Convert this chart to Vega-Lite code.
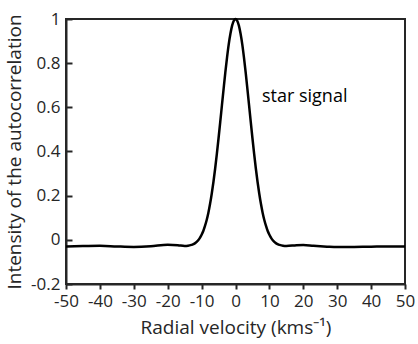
{
  "$schema": "https://vega.github.io/schema/vega-lite/v6.json",
  "width": 339,
  "height": 265,
  "autosize": "none",
  "padding": {"left": 66, "top": 19, "right": 13, "bottom": 60},
  "background": "white",
  "config": {
    "view": {"stroke": "#262626", "strokeWidth": 2},
    "axis": {
      "grid": false,
      "labelOverlap": false,
      "labelFlush": false,
      "labelFont": "Open Sans",
      "labelFontSize": 17,
      "labelColor": "#262626",
      "titleFont": "Open Sans",
      "titleFontSize": 19,
      "titleFontWeight": "normal",
      "titleColor": "#262626"
    }
  },
  "datasets": {
    "curve": [
      {"v": -50, "i": -0.030}, {"v": -45, "i": -0.028}, {"v": -40, "i": -0.027}, {"v": -35, "i": -0.030},
      {"v": -30, "i": -0.032}, {"v": -25, "i": -0.029}, {"v": -20, "i": -0.022}, {"v": -17, "i": -0.024},
      {"v": -15, "i": -0.028}, {"v": -14, "i": -0.027}, {"v": -13, "i": -0.023}, {"v": -12, "i": -0.016},
      {"v": -11, "i": -0.002}, {"v": -10.5, "i": 0.009}, {"v": -10, "i": 0.023}, {"v": -9.5, "i": 0.040},
      {"v": -9, "i": 0.063}, {"v": -8.5, "i": 0.090}, {"v": -8, "i": 0.123}, {"v": -7.5, "i": 0.163},
      {"v": -7, "i": 0.210}, {"v": -6.5, "i": 0.263}, {"v": -6, "i": 0.323}, {"v": -5.5, "i": 0.389},
      {"v": -5, "i": 0.460}, {"v": -4.5, "i": 0.534}, {"v": -4, "i": 0.610}, {"v": -3.5, "i": 0.685},
      {"v": -3, "i": 0.758}, {"v": -2.5, "i": 0.825}, {"v": -2, "i": 0.885}, {"v": -1.5, "i": 0.933},
      {"v": -1, "i": 0.970}, {"v": -0.5, "i": 0.992}, {"v": 0, "i": 1.0},
      {"v": 0.5, "i": 0.992}, {"v": 1, "i": 0.970}, {"v": 1.5, "i": 0.933}, {"v": 2, "i": 0.885},
      {"v": 2.5, "i": 0.825}, {"v": 3, "i": 0.758}, {"v": 3.5, "i": 0.685}, {"v": 4, "i": 0.610},
      {"v": 4.5, "i": 0.534}, {"v": 5, "i": 0.460}, {"v": 5.5, "i": 0.389}, {"v": 6, "i": 0.323},
      {"v": 6.5, "i": 0.263}, {"v": 7, "i": 0.210}, {"v": 7.5, "i": 0.163}, {"v": 8, "i": 0.123},
      {"v": 8.5, "i": 0.090}, {"v": 9, "i": 0.063}, {"v": 9.5, "i": 0.040}, {"v": 10, "i": 0.023},
      {"v": 10.5, "i": 0.009}, {"v": 11, "i": -0.002}, {"v": 12, "i": -0.016}, {"v": 13, "i": -0.023},
      {"v": 14, "i": -0.027}, {"v": 15, "i": -0.028}, {"v": 18, "i": -0.024}, {"v": 20, "i": -0.023},
      {"v": 23, "i": -0.027}, {"v": 27, "i": -0.031}, {"v": 30, "i": -0.033}, {"v": 35, "i": -0.032},
      {"v": 40, "i": -0.031}, {"v": 45, "i": -0.030}, {"v": 50, "i": -0.030}
    ],
    "note": [{"v": 7.8, "i": 0.645, "label": "star signal"}]
  },
  "encoding": {
    "x": {
      "field": "v", "type": "quantitative",
      "scale": {"domain": [-50, 50], "nice": false, "zero": false},
      "axis": {
        "orient": "bottom",
        "values": [-50, -40, -30, -20, -10, 0, 10, 20, 30, 40, 50],
        "labelExpr": "'' + datum.value",
        "title": "Radial velocity (kms⁻¹)",
        "domainColor": "#262626",
        "domainWidth": 2,
        "tickColor": "#262626",
        "tickSize": 5,
        "tickWidth": 2,
        "labelPadding": 4,
        "titlePadding": 9
      }
    },
    "y": {
      "field": "i", "type": "quantitative",
      "scale": {"domain": [-0.2, 1], "nice": false, "zero": false},
      "axis": {
        "orient": "left",
        "values": [-0.2, 0, 0.2, 0.4, 0.6, 0.8, 1],
        "labelExpr": "'' + datum.value",
        "title": "Intensity of the autocorrelation",
        "domainColor": "#262626",
        "domainWidth": 2,
        "tickSize": -6,
        "tickWidth": 2,
        "tickColor": "#262626",
        "labelPadding": 12,
        "titlePadding": 6
      }
    }
  },
  "layer": [
    {
      "data": {"name": "curve"},
      "mark": {"type": "line", "color": "black", "strokeWidth": 2.5, "interpolate": "monotone"}
    },
    {
      "data": {"name": "note"},
      "mark": {"type": "text", "font": "Open Sans", "fontSize": 18, "align": "left", "baseline": "middle", "color": "black"},
      "encoding": {"text": {"field": "label"}}
    }
  ]
}
